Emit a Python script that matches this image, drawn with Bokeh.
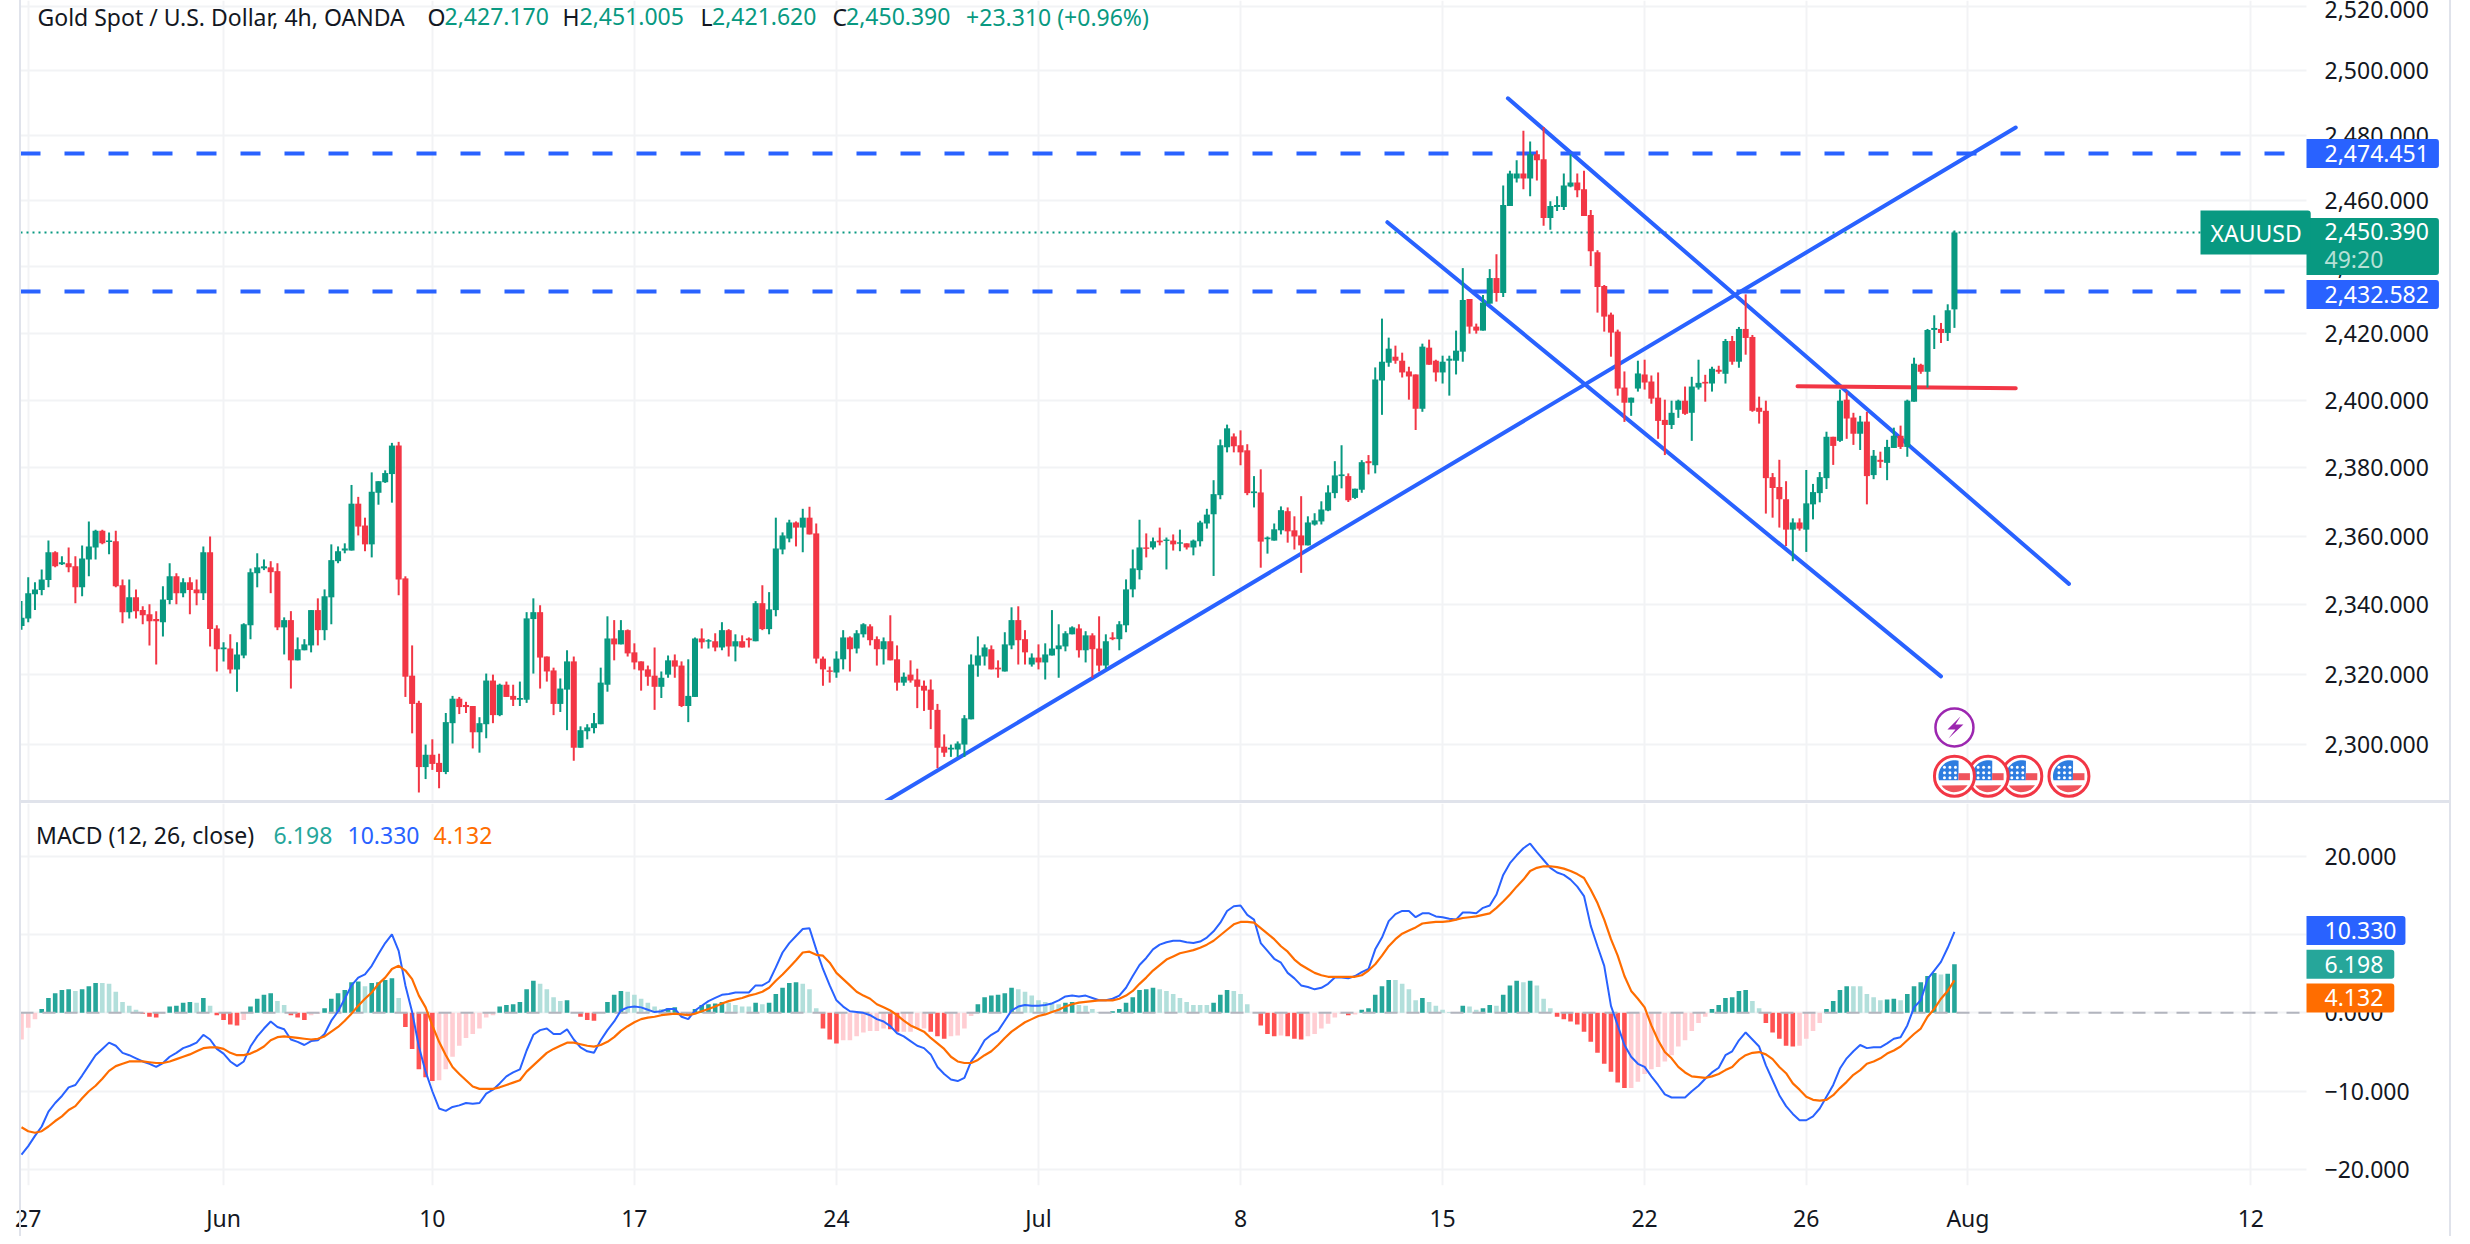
from math import exp, cos, sin, radians
from bokeh.plotting import figure
from bokeh.layouts import column
from bokeh.models import Range1d, FixedTicker, Label, ColumnDataSource, NumeralTickFormatter
from bokeh.embed import file_html
from bokeh.resources import INLINE

opens = [2333.9,2336.1,2343.1,2344.3,2347.2,2355.3,2351.8,2352.1,2351.2,2345.1,
2353.2,2356.7,2361.6,2358.3,2358.5,2345.7,2337.9,2342.2,2338.5,2337.3,
2335.9,2335.0,2341.4,2348.3,2343.4,2346.6,2344.5,2343.4,2355.3,2333.2,
2327.2,2327.4,2321.4,2325.4,2334.1,2349.2,2350.6,2350.9,2349.8,2333.5,
2335.6,2324.0,2326.9,2328.3,2338.5,2332.7,2342.2,2352.7,2355.8,2355.8,
2369.5,2363.1,2357.6,2372.7,2375.8,2378.2,2386.6,2347.7,2319.6,2311.8,
2293.5,2297.0,2294.7,2292.1,2306.0,2313.0,2311.2,2310.9,2303.4,2305.7,
2318.2,2308.3,2317.0,2313.8,2312.7,2312.7,2335.9,2337.9,2325.1,2321.1,
2311.5,2315.6,2323.7,2299.0,2303.7,2304.6,2305.7,2317.0,2330.3,2328.6,
2332.7,2326.3,2323.7,2321.4,2319.6,2316.4,2319.9,2324.0,2322.5,2310.9,
2313.5,2330.3,2329.4,2329.5,2327.7,2332.7,2328.0,2329.5,2330.3,2329.5,
2340.5,2333.0,2338.5,2356.1,2359.3,2364.0,2362.5,2365.4,2360.8,2324.5,
2321.1,2320.5,2324.3,2330.6,2327.4,2331.5,2333.8,2330.1,2327.2,2329.5,
2324.3,2317.6,2319.9,2318.5,2316.7,2315.6,2309.8,2299.3,2298.5,2298.5,
2299.9,2307.1,2322.5,2325.1,2327.2,2321.9,2320.8,2328.3,2335.6,2330.1,
2322.8,2324.8,2323.4,2325.4,2327.2,2328.0,2331.5,2333.2,2326.9,2331.2,
2327.4,2322.5,2330.6,2330.1,2334.1,2344.5,2350.1,2356.7,2356.7,2358.7,
2358.6,2358.7,2357.8,2357.9,2356.7,2358.5,2363.7,2366.4,2372.0,2386.1,
2389.3,2386.7,2385.2,2372.6,2372.8,2359.1,2358.7,2361.7,2367.3,2361.7,
2360.2,2357.3,2363.4,2364.3,2367.5,2372.6,2377.6,2377.6,2371.2,2373.6,
2382.0,2380.8,2405.9,2411.2,2413.0,2411.8,2408.6,2407.7,2397.5,2415.7,
2411.8,2408.3,2411.8,2411.8,2414.5,2430.3,2422.0,2420.8,2428.9,2436.6,
2432.1,2458.4,2466.8,2468.3,2466.8,2474.2,2472.7,2454.8,2458.1,2458.1,
2464.4,2465.6,2463.5,2455.7,2444.4,2434.2,2425.6,2420.5,2403.8,2399.3,
2403.5,2407.7,2405.6,2400.8,2394.2,2392.7,2397.2,2399.9,2396.3,2403.8,
2405.5,2405.0,2409.1,2407.9,2417.7,2411.5,2421.3,2418.9,2397.8,2396.9,
2377.3,2374.4,2370.8,2361.9,2364.0,2361.9,2369.3,2372.6,2377.0,2389.2,
2388.0,2400.2,2394.9,2390.1,2393.7,2377.9,2382.4,2381.5,2385.9,2389.5,
2386.2,2399.6,2410.6,2408.5,2421.0,2421.3,2420.1,2427.17]

highs = [2341.1,2348.0,2346.6,2350.3,2358.7,2355.6,2354.1,2356.7,2354.1,2357.3,
2364.3,2361.9,2361.9,2361.1,2361.6,2347.4,2347.4,2344.5,2339.6,2340.2,
2338.2,2345.4,2352.1,2349.2,2347.7,2348.0,2347.4,2357.0,2359.9,2334.1,
2329.2,2331.5,2329.2,2334.7,2350.6,2355.0,2353.2,2352.7,2352.1,2336.4,
2338.2,2330.6,2330.1,2338.5,2341.9,2344.5,2357.6,2357.0,2357.9,2375.0,
2371.5,2365.4,2378.7,2376.1,2379.3,2387.4,2387.7,2348.3,2328.3,2312.4,
2299.9,2301.4,2297.3,2308.9,2313.8,2313.5,2312.1,2310.9,2307.7,2320.2,
2319.9,2317.3,2317.9,2317.0,2317.9,2337.9,2341.9,2339.9,2325.1,2321.9,
2318.8,2326.9,2325.1,2305.1,2305.7,2308.9,2321.9,2336.7,2335.6,2335.6,
2332.9,2328.9,2323.7,2322.5,2327.7,2320.8,2325.4,2325.7,2323.7,2324.3,
2330.6,2333.2,2330.1,2331.8,2335.0,2333.0,2331.5,2331.2,2330.6,2341.1,
2345.7,2343.7,2365.4,2361.1,2364.8,2364.3,2368.0,2368.6,2363.7,2325.1,
2322.2,2326.6,2332.7,2330.9,2332.7,2334.7,2334.4,2330.9,2330.6,2337.0,
2328.3,2320.5,2324.0,2321.6,2318.2,2318.5,2311.5,2302.8,2299.9,2300.8,
2308.3,2325.7,2330.9,2328.6,2328.3,2324.0,2332.1,2339.3,2339.6,2332.7,
2326.0,2328.6,2328.9,2338.5,2334.4,2332.4,2333.8,2334.4,2332.4,2331.8,
2336.7,2331.5,2332.1,2335.3,2347.4,2356.1,2364.8,2360.8,2359.6,2362.5,
2359.6,2360.5,2361.9,2357.9,2359.0,2364.5,2368.0,2376.4,2388.4,2392.8,
2390.2,2391.1,2387.0,2377.6,2379.6,2359.9,2363.7,2368.7,2368.4,2365.8,
2371.7,2365.8,2366.7,2370.2,2374.9,2382.0,2386.7,2378.4,2373.9,2382.3,
2383.8,2409.8,2424.4,2418.7,2416.3,2414.2,2410.0,2407.7,2416.9,2418.1,
2412.1,2413.3,2413.3,2420.8,2439.6,2430.3,2422.9,2431.5,2439.3,2443.8,
2464.7,2469.2,2472.4,2481.4,2478.1,2475.4,2482.6,2459.9,2461.4,2468.3,
2474.2,2468.3,2469.2,2457.2,2445.0,2434.5,2426.2,2421.1,2408.6,2400.8,
2411.8,2412.1,2407.4,2408.3,2400.2,2399.9,2400.2,2404.1,2407.0,2412.1,
2407.6,2410.0,2410.3,2418.3,2419.2,2421.9,2431.7,2419.5,2401.1,2399.9,
2378.5,2382.4,2376.1,2365.2,2365.2,2379.4,2375.3,2378.8,2390.7,2389.2,
2403.2,2402.6,2396.3,2395.4,2396.6,2385.3,2384.8,2388.3,2391.9,2392.5,
2400.2,2412.7,2410.9,2421.3,2425.4,2423.1,2428.7,2451.005]

lows = [2332.8,2335.0,2338.5,2342.8,2345.1,2350.9,2351.6,2349.5,2340.5,2342.5,
2348.3,2353.2,2357.6,2354.7,2345.1,2334.7,2336.1,2336.1,2334.4,2328.3,
2322.8,2330.9,2340.2,2340.2,2342.2,2337.3,2339.9,2341.4,2328.0,2320.8,
2323.7,2320.2,2315.0,2324.6,2330.1,2345.1,2350.1,2343.4,2332.7,2325.7,
2315.9,2324.0,2326.9,2326.3,2328.3,2329.8,2334.4,2352.1,2355.0,2355.8,
2360.2,2355.6,2353.8,2369.2,2375.6,2369.8,2342.8,2313.5,2303.1,2286.3,
2290.1,2292.7,2287.5,2291.5,2300.2,2308.6,2308.9,2298.8,2297.6,2301.7,
2306.0,2308.0,2313.5,2310.9,2310.9,2311.8,2320.2,2315.9,2317.9,2308.3,
2309.2,2304.0,2295.3,2299.0,2301.4,2303.1,2305.7,2315.0,2324.0,2328.6,
2325.1,2321.4,2315.3,2316.7,2309.8,2313.2,2319.0,2319.0,2310.6,2306.3,
2313.5,2327.4,2327.4,2326.6,2326.9,2325.1,2323.7,2327.7,2327.7,2329.5,
2332.7,2331.5,2336.7,2354.7,2358.2,2357.0,2355.3,2360.5,2323.1,2316.7,
2317.6,2319.0,2321.4,2320.8,2326.0,2330.6,2328.3,2322.5,2322.8,2324.0,
2315.3,2316.7,2317.6,2310.3,2309.5,2304.3,2293.2,2296.4,2296.4,2296.4,
2296.4,2307.1,2319.3,2322.5,2321.4,2319.0,2320.8,2327.2,2322.8,2322.8,
2322.2,2321.4,2318.5,2325.4,2319.0,2326.6,2331.5,2324.8,2323.4,2319.0,
2320.8,2321.6,2329.8,2326.9,2332.1,2342.2,2347.4,2353.8,2356.1,2357.3,
2350.3,2355.8,2355.6,2356.1,2354.4,2357.0,2362.2,2348.4,2370.8,2384.6,
2384.6,2380.8,2372.0,2368.4,2350.8,2354.9,2358.7,2360.5,2358.1,2356.1,
2349.3,2357.3,2363.1,2363.4,2367.3,2371.1,2374.0,2370.0,2370.9,2372.7,
2378.1,2378.4,2395.7,2410.0,2410.9,2406.8,2400.2,2391.2,2396.6,2410.6,
2405.6,2405.0,2401.4,2407.7,2411.5,2419.9,2419.9,2420.8,2428.9,2429.5,
2430.9,2458.4,2465.6,2463.5,2461.4,2466.2,2452.4,2451.2,2456.9,2457.2,
2464.1,2461.1,2455.4,2440.2,2426.2,2420.5,2413.0,2401.4,2393.6,2395.4,
2402.6,2403.2,2399.0,2388.6,2383.8,2391.5,2394.8,2395.7,2388.0,2403.2,
2399.6,2402.6,2407.9,2405.0,2410.6,2409.7,2413.6,2396.6,2393.1,2366.6,
2365.4,2362.5,2357.1,2352.7,2361.6,2355.4,2364.9,2369.9,2373.8,2380.9,
2387.7,2388.6,2386.8,2385.3,2369.3,2376.7,2380.0,2376.4,2385.9,2385.6,
2383.3,2399.6,2407.9,2403.8,2415.3,2417.1,2417.7,2421.62]

closes = [2336.3,2343.4,2344.5,2347.4,2355.3,2351.2,2352.4,2350.9,2345.1,2353.5,
2357.0,2361.6,2357.9,2358.7,2345.4,2337.9,2342.2,2338.2,2337.0,2335.3,
2335.3,2341.6,2348.3,2343.4,2346.6,2344.3,2343.4,2355.3,2333.0,2327.2,
2327.7,2321.4,2325.7,2334.4,2349.5,2350.9,2351.2,2349.5,2333.5,2335.6,
2324.0,2327.2,2328.6,2338.5,2332.7,2342.5,2353.0,2355.6,2356.4,2369.5,
2362.8,2357.6,2373.0,2376.1,2378.5,2386.6,2347.4,2319.3,2311.5,2293.5,
2297.0,2294.4,2292.1,2306.3,2313.0,2310.6,2310.6,2303.4,2306.0,2318.2,
2308.3,2317.0,2313.5,2312.7,2313.2,2336.1,2337.9,2324.8,2320.8,2311.5,
2315.9,2323.7,2299.0,2304.0,2304.8,2306.0,2317.6,2330.3,2328.6,2332.7,
2326.0,2323.4,2321.1,2319.3,2316.4,2319.0,2324.0,2322.2,2310.9,2313.8,
2330.3,2329.2,2329.8,2327.7,2332.7,2328.0,2329.5,2327.7,2329.8,2340.5,
2333.0,2338.7,2356.4,2360.2,2364.0,2362.5,2365.4,2360.5,2324.5,2321.4,
2320.7,2324.5,2330.6,2327.2,2331.8,2334.4,2329.8,2327.2,2329.5,2324.0,
2317.6,2319.3,2318.2,2316.4,2315.3,2309.8,2299.0,2297.6,2299.0,2300.2,
2307.4,2322.8,2325.4,2327.7,2321.4,2321.4,2328.6,2335.6,2329.8,2326.3,
2324.8,2323.4,2325.7,2327.4,2328.3,2331.8,2333.5,2326.9,2331.2,2327.2,
2322.5,2329.5,2330.1,2334.4,2344.5,2350.6,2356.7,2356.3,2358.5,2358.2,
2359.0,2357.6,2358.2,2356.7,2358.7,2364.0,2366.3,2372.3,2386.7,2391.7,
2386.4,2384.6,2372.6,2373.1,2358.4,2359.6,2362.0,2367.6,2361.4,2359.9,
2357.3,2364.0,2364.6,2367.8,2372.8,2377.8,2378.1,2370.5,2373.9,2381.7,
2381.4,2406.2,2411.5,2415.4,2411.8,2408.3,2407.1,2397.5,2416.0,2410.6,
2408.3,2411.5,2412.4,2414.8,2430.0,2422.0,2420.8,2429.2,2436.6,2432.1,
2458.7,2468.3,2468.3,2466.8,2474.2,2472.4,2454.8,2458.4,2458.7,2464.7,
2465.6,2463.2,2455.4,2444.7,2433.9,2425.0,2420.2,2403.5,2399.3,2400.8,
2408.0,2405.3,2400.5,2393.9,2392.7,2396.3,2399.9,2396.0,2404.1,2405.2,
2405.0,2409.4,2408.5,2417.7,2411.5,2421.3,2418.6,2396.9,2396.6,2377.0,
2374.1,2370.8,2361.9,2364.0,2362.2,2369.6,2372.9,2377.3,2389.2,2386.5,
2399.9,2394.6,2390.1,2393.7,2377.6,2383.6,2381.8,2386.2,2389.5,2386.2,
2399.9,2410.9,2408.5,2421.0,2421.6,2420.1,2426.9,2450.39]

macd_line = [-18.1,-17.0,-15.7,-14.5,-12.6,-11.5,-10.6,-9.5,-9.2,-8.0,
-6.7,-5.4,-4.6,-3.8,-4.2,-5.1,-5.4,-5.8,-6.2,-6.5,
-6.9,-6.4,-5.6,-5.1,-4.5,-4.2,-3.8,-2.8,-3.4,-4.6,
-5.2,-6.2,-6.8,-6.2,-4.3,-3.0,-2.0,-1.1,-1.8,-2.1,
-3.4,-3.7,-4.1,-3.6,-3.5,-2.7,-1.0,0.2,1.8,3.5,
4.5,4.9,6.0,7.5,8.9,10.0,7.9,3.5,0.1,-4.3,
-7.5,-10.0,-12.2,-12.5,-12.0,-11.8,-11.5,-11.6,-11.5,-10.3,
-9.8,-9.0,-8.1,-7.6,-7.2,-4.8,-2.8,-2.2,-2.0,-2.7,
-2.7,-2.1,-3.4,-4.4,-4.9,-5.1,-3.5,-2.2,-1.1,0.3,
0.7,0.8,0.7,0.4,0.1,0.2,0.5,0.5,-0.5,-0.8,
0.3,0.9,1.5,1.9,2.3,2.4,2.6,2.6,2.6,3.5,
3.5,4.0,5.8,7.7,8.9,9.8,10.7,10.8,8.1,5.6,
3.5,1.6,0.8,0.2,0.1,0.0,-0.3,-0.8,-1.1,-1.7,
-2.6,-3.0,-3.6,-4.2,-4.5,-5.3,-6.9,-7.8,-8.5,-8.7,
-8.3,-6.2,-5.0,-3.5,-2.8,-2.3,-1.0,0.3,0.8,1.0,
0.9,0.9,1.0,1.2,1.6,2.1,2.2,2.1,2.2,1.9,
1.6,1.6,1.8,2.2,3.2,4.7,6.1,7.0,8.1,8.7,
9.0,9.2,9.2,9.0,8.9,9.1,9.6,10.4,11.5,13.0,
13.6,13.7,12.5,11.9,8.9,7.9,6.9,6.4,5.1,4.4,
3.5,3.3,3.0,3.2,3.7,4.5,4.5,4.4,4.7,5.2,
5.6,8.1,9.6,11.7,12.6,13.0,13.0,12.2,12.7,12.7,
12.3,12.2,12.0,11.9,12.8,12.8,12.7,13.4,13.7,15.1,
17.6,19.1,20.1,21.0,21.6,20.5,19.5,18.5,17.9,17.6,
17.0,16.1,14.9,11.1,8.5,6.0,0.9,-1.6,-4.1,-5.6,
-6.5,-6.9,-8.1,-9.2,-10.4,-10.8,-10.8,-10.8,-10.0,-9.3,
-8.4,-7.6,-7.0,-5.4,-4.9,-3.5,-2.5,-3.4,-4.3,-6.7,
-8.6,-10.5,-11.9,-12.9,-13.7,-13.7,-13.2,-12.2,-10.7,-9.2,
-7.1,-5.8,-4.9,-4.1,-4.5,-4.4,-4.4,-3.9,-3.3,-3.1,
-1.6,0.7,1.6,4.3,5.4,6.5,8.3,10.33]

signal_line = [-14.6,-15.1,-15.3,-15.1,-14.5,-13.8,-13.2,-12.4,-11.9,-10.9,
-10.0,-9.3,-8.4,-7.4,-6.8,-6.5,-6.2,-6.2,-6.2,-6.3,
-6.4,-6.4,-6.2,-5.9,-5.6,-5.3,-4.9,-4.5,-4.4,-4.4,
-4.6,-5.1,-5.4,-5.4,-5.2,-4.8,-4.3,-3.5,-3.1,-3.0,
-3.1,-3.2,-3.3,-3.4,-3.3,-3.0,-2.4,-1.8,-1.0,-0.1,
0.9,1.8,2.6,3.7,4.5,5.6,6.0,5.4,4.3,2.2,
0.7,-1.6,-3.7,-5.4,-6.9,-7.8,-8.6,-9.4,-9.7,-9.7,
-9.7,-9.5,-9.2,-8.9,-8.6,-7.5,-6.7,-5.9,-5.1,-4.6,
-4.2,-3.8,-3.8,-4.0,-4.2,-4.3,-4.1,-3.7,-3.1,-2.3,
-1.7,-1.2,-0.8,-0.6,-0.5,-0.3,-0.2,-0.1,-0.2,-0.3,
-0.1,0.2,0.5,0.8,1.2,1.5,1.7,1.9,2.2,2.4,
2.7,3.2,4.1,4.9,5.8,6.7,7.7,7.8,7.4,7.3,
6.4,5.1,4.3,3.5,2.7,2.2,1.8,1.1,0.7,0.3,
-0.3,-1.0,-1.6,-2.0,-2.4,-3.2,-3.9,-4.6,-5.6,-6.2,
-6.4,-6.4,-6.0,-5.4,-4.9,-4.1,-3.2,-2.4,-1.8,-1.2,
-0.8,-0.4,-0.2,0.1,0.4,0.8,1.1,1.3,1.4,1.5,
1.6,1.6,1.6,1.8,2.2,2.8,3.7,4.5,5.4,6.1,
6.8,7.2,7.6,7.8,8.0,8.3,8.7,9.2,9.9,10.6,
11.3,11.6,11.6,11.5,10.8,10.1,9.4,8.5,7.8,6.8,
6.1,5.6,5.1,4.8,4.6,4.6,4.6,4.6,4.6,4.8,
5.4,6.2,7.3,8.5,9.4,10.1,10.5,10.9,11.4,11.5,
11.6,11.6,11.7,11.9,12.1,12.2,12.3,12.5,12.7,13.4,
14.2,15.1,16.1,17.0,18.1,18.5,18.7,18.7,18.6,18.4,
18.1,17.7,17.2,15.7,14.0,11.9,9.4,7.3,4.7,2.8,
1.8,0.7,-1.6,-3.5,-5.0,-5.8,-6.9,-7.6,-8.1,-8.2,
-8.3,-8.1,-7.8,-7.3,-6.9,-6.0,-5.4,-5.1,-5.0,-5.3,
-5.9,-6.9,-7.7,-9.0,-9.8,-10.7,-11.1,-11.2,-11.1,-10.5,
-9.6,-8.8,-7.9,-7.3,-6.5,-6.2,-5.8,-5.2,-4.8,-4.3,
-3.5,-2.7,-2.0,-0.5,0.5,1.8,2.8,4.132]

histogram = [-3.4,-1.9,-0.8,0.5,1.9,2.5,2.9,3.0,2.8,3.0,
3.4,3.8,3.8,3.7,2.7,1.4,0.9,0.4,-0.1,-0.5,
-0.6,-0.1,0.8,0.9,1.3,1.4,1.3,1.9,0.9,-0.3,
-0.9,-1.5,-1.6,-0.9,0.8,1.8,2.3,2.5,1.5,1.0,
-0.3,-0.6,-0.9,-0.3,-0.1,0.6,1.8,2.5,2.9,3.9,
4.0,3.4,3.8,3.9,4.2,4.4,1.9,-1.8,-4.6,-7.2,
-8.2,-8.7,-8.6,-7.2,-5.6,-4.2,-3.2,-2.7,-2.0,-0.6,
-0.3,0.8,1.0,1.1,1.4,3.0,4.1,3.7,3.0,2.0,
1.5,1.6,0.1,-0.5,-0.9,-1.0,0.1,1.4,2.3,2.8,
2.7,2.3,1.8,1.3,0.8,0.5,0.6,0.7,0.0,-0.3,
0.5,1.0,1.1,1.2,1.4,1.3,1.0,0.8,0.8,1.3,
1.1,1.3,2.4,3.2,3.8,3.9,3.7,3.0,0.6,-2.0,
-3.4,-3.9,-3.5,-3.5,-3.0,-2.5,-2.3,-2.3,-2.0,-2.1,
-2.4,-2.4,-2.4,-2.0,-2.0,-2.4,-3.0,-3.3,-3.0,-2.9,
-2.0,-0.4,1.1,2.0,2.2,2.3,2.5,3.2,3.0,2.7,
2.2,1.6,1.4,1.3,1.1,1.3,1.4,1.0,0.9,0.5,
0.1,0.1,0.2,0.5,1.3,2.0,2.9,3.0,3.2,3.0,
2.8,2.4,1.9,1.4,1.0,1.0,1.0,1.3,2.3,2.9,
2.8,2.4,1.1,0.0,-1.6,-2.7,-3.0,-2.9,-3.0,-3.3,
-3.4,-3.0,-2.7,-2.0,-1.4,-0.6,-0.1,-0.3,-0.2,0.4,
0.6,2.3,3.4,4.2,4.2,3.7,3.0,1.6,1.9,1.4,
0.9,0.4,0.1,0.1,0.9,0.8,0.4,0.6,1.0,0.9,
2.3,3.5,4.1,3.9,4.1,3.5,1.8,0.6,-0.5,-0.8,
-1.1,-1.5,-2.4,-3.7,-5.1,-6.5,-7.5,-8.9,-9.6,-9.6,
-8.8,-7.8,-7.2,-6.9,-6.2,-5.4,-4.3,-3.5,-2.3,-1.3,
-0.5,0.5,1.0,1.9,2.0,2.8,2.9,1.5,0.6,-1.3,
-2.5,-3.3,-4.2,-4.3,-4.2,-3.3,-2.3,-1.3,0.5,1.5,
2.9,3.4,3.4,3.4,2.4,2.0,1.6,1.7,1.8,1.6,
2.4,3.4,3.9,4.7,5.1,4.9,5.0,6.198]

price_ticks = [2300, 2320, 2340, 2360, 2380, 2400, 2420, 2440, 2460, 2480, 2500, 2520]
macd_ticks = [-20, -10, 0, 10, 20]
macd_tick_labels = {-20: "\u221220.000", -10: "\u221210.000", 0: "0.000", 10: "10.000", 20: "20.000"}
time_ticks = [2, 31, 62, 92, 122, 152, 182, 212, 242, 266, 290, 332]
time_labels = ["27", "Jun", "10", "17", "24", "Jul", "8", "15", "22", "26", "Aug", "12"]
levels = [2474.451, 2432.582]

trend_up = ([128.8, 297.1], [2283.2, 2482.4])
channel_low = ([203.8, 286.0], [2453.5, 2319.4])
channel_high = ([221.7, 305.0], [2491.4, 2346.1])
resistance = ([264.7, 297.1], [2404.2, 2403.6])
news_bars = [288, 293, 298, 305]
bolt_bar = 288

GREEN, RED, BLUE, ORANGE = "#089981", "#f23645", "#2962ff", "#ff6d00"
TEAL, TEAL_L, RED_H, RED_L = "#26a69a", "#b2dfdb", "#ff5252", "#ffcdd2"
INK, GRID, EDGE = "#131722", "#f2f3f5", "#e0e3eb"
FONT = "Noto Sans"
FS = "23px"
W = 2462
x = list(range(1, len(closes) + 1))


def px_x(px):
    return 1 + (px - 21) / 6.735


def px_y(py):
    return 2500 * exp((70 - py) / 8080)


def mc_y(py):
    return (1014 - py) / 7.9


def base_fig(height, y_range, **kw):
    f = figure(width=W, height=height, x_range=Range1d(px_x(20), px_x(W)), y_range=y_range,
               y_axis_location="right", toolbar_location=None, output_backend="svg",
               min_border_left=20, min_border_right=0, min_border_top=0,
               outline_line_color=None, **kw)
    f.ygrid.grid_line_color = GRID
    f.ygrid.grid_line_width = 2
    f.xgrid.grid_line_color = GRID
    f.xgrid.grid_line_width = 2
    f.xgrid.ticker = FixedTicker(ticks=time_ticks)
    ax = f.yaxis[0]
    ax.axis_line_color = None
    ax.major_tick_line_color = None
    ax.minor_tick_line_color = None
    ax.major_tick_out = 0
    ax.major_tick_in = 0
    ax.major_label_standoff = 2324 - W
    ax.major_label_text_font = FONT
    ax.major_label_text_font_size = FS
    ax.major_label_text_color = INK
    # the grid stops where the price scale begins
    f.quad(left=[px_x(2306)], right=[px_x(W)], bottom=[y_range.start], top=[y_range.end],
           fill_color="white", line_color=None)
    return f


def text(f, yf, px, py, s, color=INK, bg=None, pad=None):
    kw = {}
    if bg:
        kw = dict(background_fill_color=bg, background_fill_alpha=1, padding=pad, border_radius=(0, 3, 3, 0))
    f.add_layout(Label(x=px_x(px), y=yf(py), text=s, text_font=FONT, text_font_size=FS, text_color=color,
                       text_baseline="middle", text_align="left", **kw))


def patch_px(f, pts, color):
    f.patch([px_x(a) for a, _ in pts], [px_y(b) for _, b in pts], fill_color=color, line_color=None)


# ---------------- price pane
p = base_fig(803, Range1d(px_y(803), px_y(0)), y_axis_type="log")
p.min_border_bottom = 0
p.xaxis.visible = False
p.yaxis[0].ticker = FixedTicker(ticks=price_ticks)
p.yaxis[0].formatter = NumeralTickFormatter(format="0,0.000")
p.ygrid.ticker = FixedTicker(ticks=price_ticks)

x0, x1 = px_x(20), px_x(2306)
for lv in levels:
    p.line([x0, x1], [lv, lv], line_color=BLUE, line_width=4, line_dash="20 24")
p.line([x0, px_x(2200)], [closes[-1], closes[-1]], line_color=GREEN, line_width=2, line_dash="2 4")
for xs, ys in (trend_up, channel_low, channel_high):
    p.line(xs, ys, line_color=BLUE, line_width=4, line_cap="round")
p.line(resistance[0], resistance[1], line_color=RED, line_width=4, line_cap="round")

cds = ColumnDataSource(dict(
    x=x, o=opens, h=highs, l=lows, c=closes,
    top=[max(a, b) for a, b in zip(opens, closes)],
    bot=[min(a, b) for a, b in zip(opens, closes)],
    col=[GREEN if c >= o else RED for o, c in zip(opens, closes)],
))
p.segment("x", "h", "x", "l", source=cds, line_color="col", line_width=2)
p.vbar("x", top="top", bottom="bot", width=0.9, source=cds, fill_color="col", line_color=None)

# event markers
fy = 775.7
for b in reversed(news_bars):
    cx = 21 + (b - 1) * 6.735
    p.scatter([b], [px_y(fy)], marker="circle", size=40, fill_color="white", line_color=RED, line_width=3)
    blue_pts = [(cx + 16 * cos(radians(t)), fy + 16 * sin(radians(t))) for t in range(-75, -196, -10)] + [(cx + 4, fy + 4)]
    patch_px(p, blue_pts, "#2e7de0")
    patch_px(p, [(cx + 4, fy - 3), (cx + 15.5, fy - 3), (cx + 15.5, fy + 4), (cx + 4, fy + 4)], "#f0545c")
    patch_px(p, [(cx + 16 * cos(radians(t)), fy + 16 * sin(radians(t))) for t in range(34, 147, 10)], "#f0545c")
    dots = [(cx + a, fy + c) for a in (-10, -4.5, 1) for c in (-9, -3.5, 1.5)]
    p.scatter([px_x(a) for a, _ in dots], [px_y(c) for _, c in dots], marker="circle", size=3,
              fill_color="white", line_color=None)
yb = 727
p.scatter([bolt_bar], [px_y(yb)], marker="circle", size=38, fill_color="white", line_color="#9c27b0", line_width=2.5)
cxb = 21 + (bolt_bar - 1) * 6.735
patch_px(p, [(cxb + a, yb + c) for a, c in [(6, -11), (-7, 2), (1, 2), (-6, 11), (9, -3), (1, -3)]], "#9c27b0")

# price tags; padding reads left, right, top, bottom
text(p, px_y, 2306, 153, "2,474.451", "white", BLUE, (18, 10, 6, 6))
text(p, px_y, 2306, 246, "2,450.390", "white", GREEN, (18, 10, 5, 35))
text(p, px_y, 2324, 258, "49:20", "#b5e0d6")
text(p, px_y, 2306, 294, "2,432.582", "white", BLUE, (18, 10, 6, 6))
text(p, px_y, 2200, 232, "XAUUSD", "white", GREEN, (10, 9, 6, 6))

header = [(37, "Gold Spot / U.S. Dollar, 4h, OANDA", INK), (427, "O", INK), (444, "2,427.170", GREEN),
          (562, "H", INK), (579, "2,451.005", GREEN), (700, "L", INK), (711.5, "2,421.620", GREEN),
          (832, "C", INK), (845.5, "2,450.390", GREEN), (965.6, "+23.310 (+0.96%)", GREEN)]
for hx, s, col in header:
    text(p, px_y, hx, 16, s, col)

# ---------------- MACD pane
q = base_fig(1236 - 803, Range1d(mc_y(1188), mc_y(803)))
q.min_border_bottom = 48
q.yaxis[0].ticker = FixedTicker(ticks=macd_ticks)
q.yaxis[0].major_label_overrides = macd_tick_labels
q.ygrid.ticker = FixedTicker(ticks=macd_ticks)
xa = q.xaxis[0]
xa.ticker = FixedTicker(ticks=time_ticks)
xa.major_label_overrides = dict(zip(time_ticks, time_labels))
xa.axis_line_color = None
xa.major_tick_line_color = None
xa.minor_tick_line_color = None
xa.major_tick_out = 0
xa.major_tick_in = 0
xa.major_label_standoff = 16
xa.major_label_text_font = FONT
xa.major_label_text_font_size = FS
xa.major_label_text_color = INK


def hist_color(i):
    v = histogram[i]
    prev = histogram[i - 1] if i else v
    if v >= 0:
        return TEAL if v > prev else TEAL_L
    return RED_H if v < prev else RED_L


hs = ColumnDataSource(dict(x=x, v=histogram, col=[hist_color(i) for i in range(len(histogram))]))
q.vbar("x", top="v", bottom=0, width=0.68, source=hs, fill_color="col", line_color=None)
q.line([x0, x1], [0, 0], line_color="#b2b5be", line_width=2, line_dash="13 9")
q.line(x, macd_line, line_color=BLUE, line_width=2)
q.line(x, signal_line, line_color=ORANGE, line_width=2.2)

text(q, mc_y, 2306, 931, "10.330", "white", BLUE, (18, 9, 6, 6))
text(q, mc_y, 2306, 965, "6.198", "white", TEAL, (18, 11, 6, 6))
text(q, mc_y, 2306, 999, "4.132", "white", ORANGE, (18, 11, 6, 6))

for hx, s, col in [(35.6, "MACD (12, 26, close)", INK), (273, "6.198", TEAL), (347, "10.330", BLUE), (433, "4.132", ORANGE)]:
    text(q, mc_y, hx, 835, s, col)

# pane borders: left and right rules, and the rule between the panes
rule = "content:''; position:absolute; left:19px; top:0; width:%dpx; height:100%%; box-sizing:border-box; pointer-events:none; border-left:2px solid %s; border-right:2px solid %s;" % (2451 - 19, EDGE, EDGE)
p.stylesheets = [":host::after {" + rule + " border-bottom:3px solid %s;}" % EDGE]
q.stylesheets = [":host::after {" + rule + "}"]

page = column(p, q)
open("out.html", "w").write(file_html(page, INLINE))
